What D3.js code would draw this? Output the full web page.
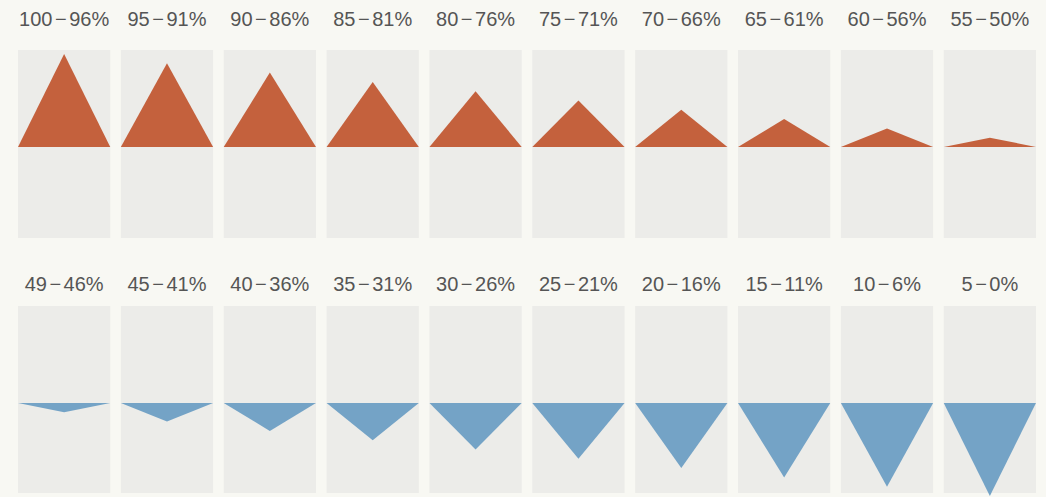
<!DOCTYPE html>
<html>
<head>
<meta charset="utf-8">
<script src="https://cdn.jsdelivr.net/npm/d3@7"></script>
<style>
  html, body { margin: 0; padding: 0; background: #f8f8f3; }
  svg { display: block; }
</style>
</head>
<body>
<svg id="chart" width="1046" height="497"></svg>
<script>
// Percentage bands and their distance from the 50% midline (in steps of 5%)
const upperLabels = ["100−96%", "95−91%", "90−86%", "85−81%", "80−76%",
                     "75−71%", "70−66%", "65−61%", "60−56%", "55−50%"];
const upperLevels = [10, 9, 8, 7, 6, 5, 4, 3, 2, 1];

const lowerLabels = ["49−46%", "45−41%", "40−36%", "35−31%", "30−26%",
                     "25−21%", "20−16%", "15−11%", "10−6%", "5−0%"];
const lowerLevels = [1, 2, 3, 4, 5, 6, 7, 8, 9, 10];

const svg = d3.select("#chart");

const x = d3.scaleBand()
  .domain(d3.range(10))
  .range([18, 1036])
  .paddingInner(0.103)
  .paddingOuter(0);

// Triangle height per level
const h = d3.scaleLinear().domain([0, 10]).range([0, 93]);

const rows = [
  { labels: upperLabels, levels: upperLevels, dir: -1, color: "#c4613d",
    labelY: 26, panelTop: 50, panelBottom: 238, base: 147 },
  { labels: lowerLabels, levels: lowerLevels, dir: 1, color: "#74a3c6",
    labelY: 291, panelTop: 306, panelBottom: 493, base: 403 }
];

rows.forEach(row => {
  const g = svg.append("g");
  const cells = g.selectAll("g.cell")
    .data(row.levels.map((v, i) => ({ v, i, label: row.labels[i] })))
    .join("g")
    .attr("class", "cell");

  cells.append("rect")
    .attr("x", d => x(d.i))
    .attr("y", row.panelTop)
    .attr("width", x.bandwidth())
    .attr("height", row.panelBottom - row.panelTop)
    .attr("fill", "#ecece9");

  cells.append("path")
    .attr("d", d => {
      const x0 = x(d.i), x1 = x(d.i) + x.bandwidth();
      const xm = (x0 + x1) / 2;
      const tip = row.base + row.dir * h(d.v);
      return d3.line()([[x0, row.base], [xm, tip], [x1, row.base]]) + "Z";
    })
    .attr("fill", row.color);

  // Range label: the dash gets a little air on both sides
  const t = cells.append("text")
    .attr("x", d => x(d.i) + x.bandwidth() / 2)
    .attr("y", row.labelY)
    .attr("text-anchor", "middle")
    .attr("font-family", "'Liberation Sans', Arial, sans-serif")
    .attr("font-size", 20)
    .attr("fill", "#555555");
  t.each(function (d) {
    const [a, b] = d.label.split("−");
    const el = d3.select(this);
    el.append("tspan").text(a);
    el.append("tspan").attr("dx", 2.5).text("−");
    el.append("tspan").attr("dx", 2.5).text(b);
  });
});
</script>
</body>
</html>
